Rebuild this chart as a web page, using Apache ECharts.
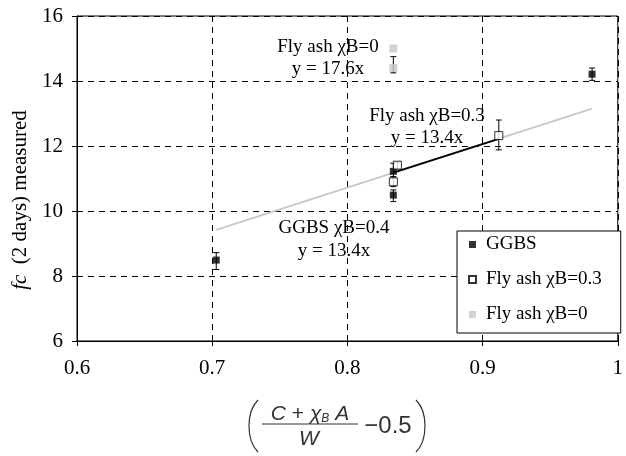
<!DOCTYPE html>
<html>
<head>
<meta charset="utf-8">
<script src="https://cdn.jsdelivr.net/npm/echarts@6/dist/echarts.min.js"></script>
<style>
html,body{margin:0;padding:0;background:#fff;}
#c{width:626px;height:456px;}
</style>
</head>
<body>
<div id="c"></div>
<script>
// ---- data ----
const xTicks = [0.6, 0.7, 0.8, 0.9, 1];
const yTicks = [6, 8, 10, 12, 14, 16];

const ggbsX  = [0.703, 0.834, 0.834, 0.981];
const ggbsY  = [8.49, 10.49, 11.22, 14.21];
const ggbsLo = [8.20, 10.29, 11.00, 14.02];
const ggbsHi = [8.72, 10.65, 11.47, 14.40];

const fly03X  = [0.834, 0.837, 0.912];
const fly03Y  = [10.90, 11.41, 12.32];
const fly03Lo = [10.75, 11.30, 11.88];
const fly03Hi = [11.06, 11.50, 12.80];

const fly0X  = [0.834, 0.834];
const fly0Y  = [15.00, 14.40];
const fly0Lo = [15.00, 14.25];
const fly0Hi = [15.00, 14.75];

// trend lines y = 13.4x (end points)
const ggbsTrendX = [0.703, 0.981];
const ggbsTrendY = [9.42, 13.15];
const flyTrendX  = [0.834, 0.912];
const flyTrendY  = [11.18, 12.22];

const seriesNames = ['GGBS', 'Fly ash χB=0.3', 'Fly ash χB=0'];

// ---- build ----
const pts = (xs, ys) => xs.map((x, i) => [x, ys[i]]);
const bars = (xs, lo, hi) => xs.map((x, i) => [x, lo[i], hi[i]]);
const SERIF = '"Liberation Serif", "Times New Roman", serif';
const SANS = '"Liberation Sans", Arial, sans-serif';

function errRender(params, api) {
  const x = api.value(0), lo = api.value(1), hi = api.value(2);
  if (lo === hi) return null;
  const a = api.coord([x, lo]), b = api.coord([x, hi]);
  const st = {stroke: '#000', lineWidth: 1};
  return {type: 'group', children: [
    {type: 'line', shape: {x1: a[0], y1: a[1], x2: b[0], y2: b[1]}, style: st},
    {type: 'line', shape: {x1: a[0]-3, y1: a[1], x2: a[0]+3, y2: a[1]}, style: st},
    {type: 'line', shape: {x1: b[0]-3, y1: b[1], x2: b[0]+3, y2: b[1]}, style: st}
  ]};
}

const chart = echarts.init(document.getElementById('c'), null, {renderer: 'canvas'});
const dashed = {show: true, lineStyle: {color: '#000', type: [6, 5], width: 1}};

chart.setOption({
  animation: false,
  backgroundColor: '#fff',
  grid: {left: 77, right: 4, top: 16, bottom: 115, show: true, borderColor: '#000', borderWidth: 1},
  xAxis: {
    type: 'value', min: xTicks[0], max: xTicks[xTicks.length-1], interval: 0.1,
    axisLine: {show: true, lineStyle: {color: '#000', width: 1}},
    axisTick: {show: true, length: 5, lineStyle: {color: '#000'}},
    axisLabel: {color: '#000', fontFamily: SERIF, fontSize: 21, margin: 17,
      formatter: v => (Math.abs(v - 1) < 1e-9 ? '1' : v.toFixed(1))},
    splitLine: dashed
  },
  yAxis: {
    type: 'value', min: yTicks[0], max: yTicks[yTicks.length-1], interval: 2,
    axisLine: {show: true, lineStyle: {color: '#000', width: 1}},
    axisTick: {show: true, length: 5, lineStyle: {color: '#000'}},
    axisLabel: {color: '#000', fontFamily: SERIF, fontSize: 21, margin: 14},
    splitLine: dashed
  },
  legend: {
    orient: 'vertical', left: 457, top: 231,
    data: seriesNames,
    itemWidth: 7, itemHeight: 7, itemGap: 16,
    padding: [4, 19, 9, 11],
    borderColor: '#000', borderWidth: 1, backgroundColor: '#fff',
    textStyle: {color: '#000', fontFamily: SERIF, fontSize: 19, padding: [0, 0, 0, 5]}
  },
  series: [
    {name: 'ggbsTrend', type: 'line', data: pts(ggbsTrendX, ggbsTrendY), showSymbol: false, symbol: 'none',
      lineStyle: {color: '#c8c8c8', width: 2}, z: 2, silent: true},
    {name: 'flyTrend', type: 'line', data: pts(flyTrendX, flyTrendY), showSymbol: false, symbol: 'none',
      lineStyle: {color: '#000', width: 2}, z: 3, silent: true},
    {name: 'errGGBS', type: 'custom', renderItem: errRender, data: bars(ggbsX, ggbsLo, ggbsHi), z: 4},
    {name: 'errFly03', type: 'custom', renderItem: errRender, data: bars(fly03X, fly03Lo, fly03Hi), z: 4},
    {name: 'errFly0', type: 'custom', renderItem: errRender, data: bars(fly0X, fly0Lo, fly0Hi), z: 4},
    {name: seriesNames[0], type: 'scatter', symbol: 'rect', symbolSize: 7,
      itemStyle: {color: '#000', borderColor: '#000', borderWidth: 0}, data: pts(ggbsX, ggbsY), z: 5},
    {name: seriesNames[1], type: 'scatter', symbol: 'rect', symbolSize: 8,
      itemStyle: {color: '#fff', borderColor: '#000', borderWidth: 1}, data: pts(fly03X, fly03Y), z: 5},
    {name: seriesNames[2], type: 'scatter', symbol: 'rect', symbolSize: 8,
      itemStyle: {color: '#c8c8c8', borderWidth: 0}, data: pts(fly0X, fly0Y), z: 5}
  ],
  graphic: [
    // annotations
    {type: 'text', x: 328, y: 47, z: 10, style: {text: 'Fly ash χB=0', fill: '#000', font: '19px ' + SERIF, align: 'center', verticalAlign: 'middle'}},
    {type: 'text', x: 328, y: 69, z: 10, style: {text: 'y = 17.6x', fill: '#000', font: '19px ' + SERIF, align: 'center', verticalAlign: 'middle'}},
    {type: 'text', x: 427, y: 116, z: 10, style: {text: 'Fly ash χB=0.3', fill: '#000', font: '19px ' + SERIF, align: 'center', verticalAlign: 'middle'}},
    {type: 'text', x: 427, y: 138, z: 10, style: {text: 'y = 13.4x', fill: '#000', font: '19px ' + SERIF, align: 'center', verticalAlign: 'middle'}},
    {type: 'text', x: 334, y: 228, z: 10, style: {text: 'GGBS χB=0.4', fill: '#000', font: '19px ' + SERIF, align: 'center', verticalAlign: 'middle'}},
    {type: 'text', x: 334, y: 251, z: 10, style: {text: 'y = 13.4x', fill: '#000', font: '19px ' + SERIF, align: 'center', verticalAlign: 'middle'}},
    // y axis title
    {type: 'text', x: 20, y: 200, rotation: Math.PI / 2, z: 10,
      style: {text: '{i|fc}  (2 days) measured', fill: '#000', font: '21px ' + SERIF, align: 'center', verticalAlign: 'middle',
        rich: {i: {fontStyle: 'italic', fontFamily: SERIF, fontSize: 21}}}},
    // x axis title (formula)
    {type: 'bezierCurve', z: 10, shape: {x1: 258, y1: 400, cpx1: 246, cpy1: 412, cpx2: 246, cpy2: 440, x2: 258, y2: 452},
      style: {stroke: '#333', lineWidth: 1.2, fill: null}},
    {type: 'bezierCurve', z: 10, shape: {x1: 416, y1: 400, cpx1: 428, cpy1: 412, cpx2: 428, cpy2: 440, x2: 416, y2: 452},
      style: {stroke: '#333', lineWidth: 1.2, fill: null}},
    {type: 'text', x: 310, y: 414, z: 10,
      style: {text: '{i|C} + {i|χ}{s|B} {i|A}', fill: '#333', font: '21px ' + SANS, align: 'center', verticalAlign: 'middle',
        rich: {i: {fontStyle: 'italic', fontSize: 21, fontFamily: SANS}, s: {fontStyle: 'italic', fontSize: 12, fontFamily: SANS, padding: [10, 0, 0, 0]}}}},
    {type: 'line', z: 10, shape: {x1: 262, y1: 424, x2: 358, y2: 424}, style: {stroke: '#333', lineWidth: 1}},
    {type: 'text', x: 309, y: 439, z: 10,
      style: {text: 'W', fill: '#333', font: 'italic 21px ' + SANS, align: 'center', verticalAlign: 'middle'}},
    {type: 'text', x: 388, y: 426, z: 10,
      style: {text: '−0.5', fill: '#333', font: '24px ' + SANS, align: 'center', verticalAlign: 'middle'}}
  ]
});
</script>
</body>
</html>
